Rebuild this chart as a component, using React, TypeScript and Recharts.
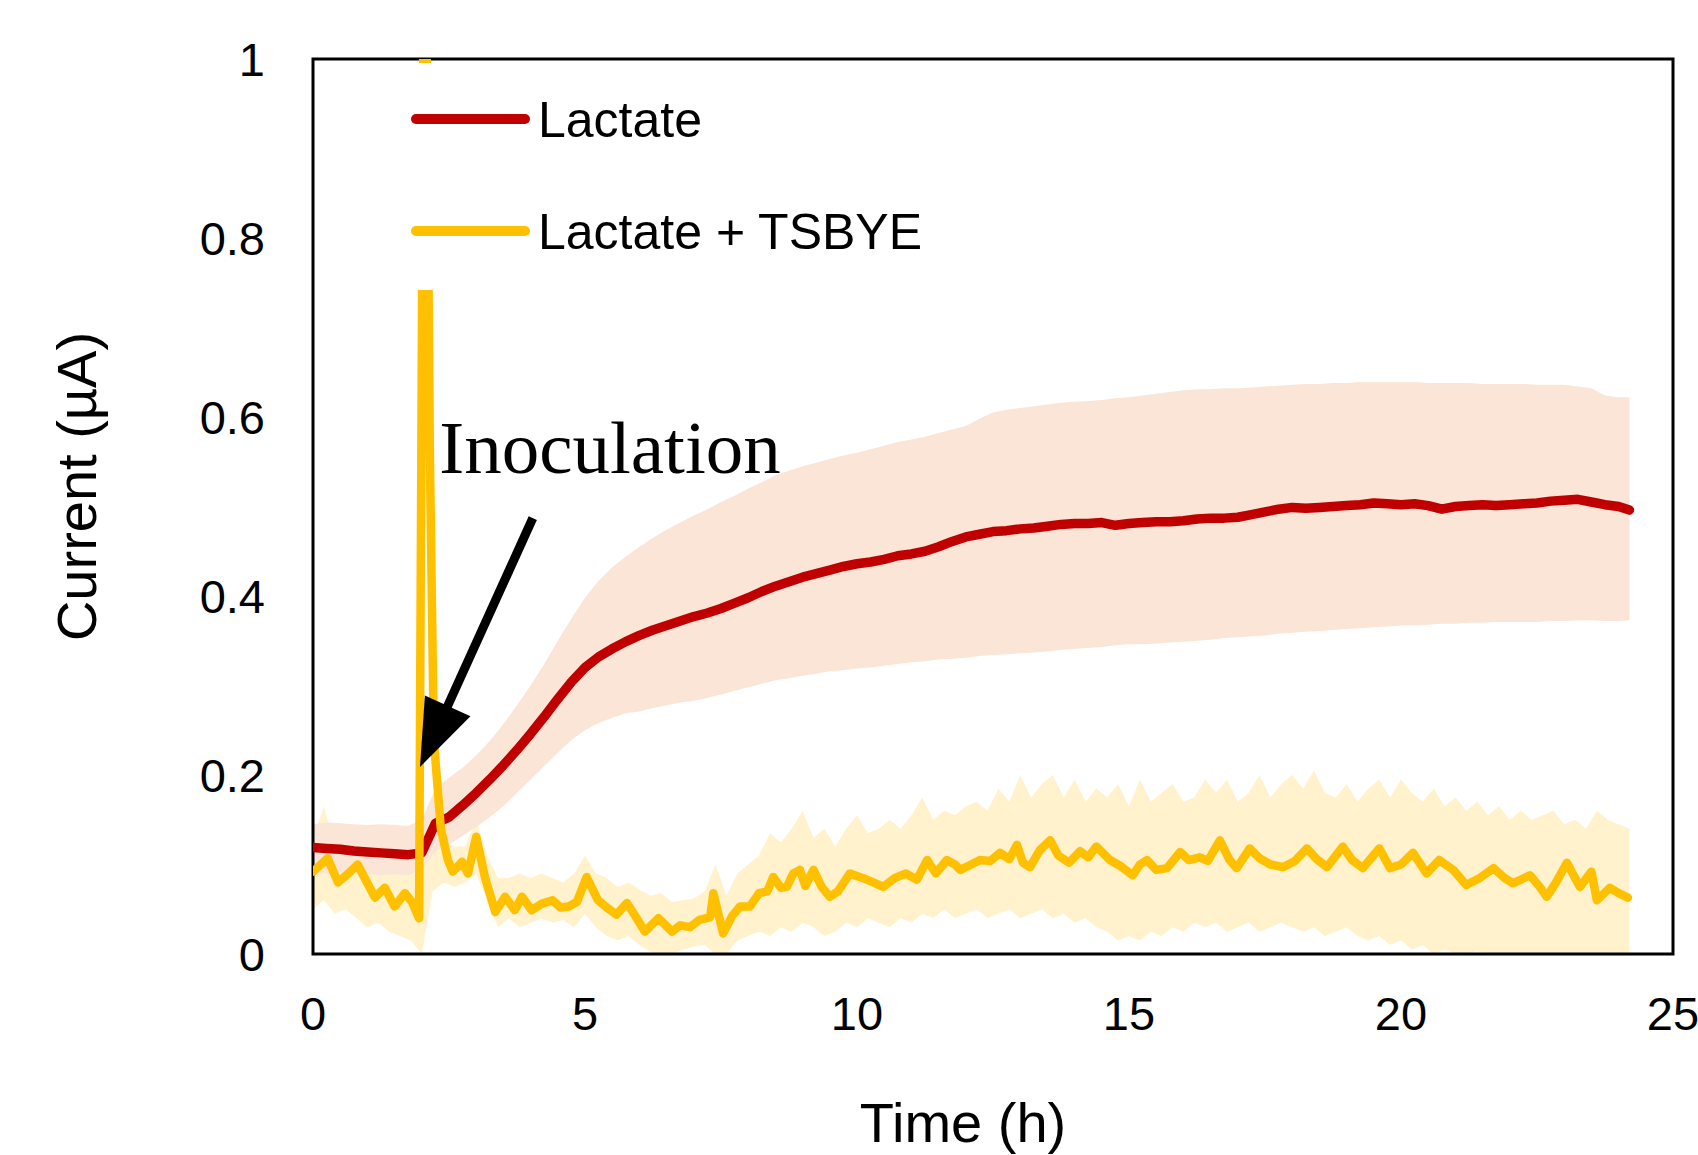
import React from "react";
import {
  Area,
  ComposedChart,
  Line,
  ReferenceArea,
  ReferenceDot,
  ReferenceLine,
  XAxis,
  YAxis,
} from "recharts";

const SANS = '"Liberation Sans", Arial, sans-serif';
const SERIF = '"Liberation Serif", "Times New Roman", serif';
const RED = "#C00000";
const GOLD = "#FFC000";
const RED_BAND = "#FBE5D6";
const GOLD_BAND = "#FFF2CC";

const xTicks = [0, 5, 10, 15, 20, 25];
const yTicks = [0, 0.2, 0.4, 0.6, 0.8, 1];

// Lactate: mean and spread, every 0.25 h
const lactateTime = [
  0, 0.25, 0.5, 0.75, 1, 1.25, 1.5, 1.75, 2, 2.25, 2.5, 2.75,
  3, 3.25, 3.5, 3.75, 4, 4.25, 4.5, 4.75, 5, 5.25, 5.5, 5.75,
  6, 6.25, 6.5, 6.75, 7, 7.25, 7.5, 7.75, 8, 8.25, 8.5, 8.75,
  9, 9.25, 9.5, 9.75, 10, 10.25, 10.5, 10.75, 11, 11.25, 11.5, 11.75,
  12, 12.25, 12.5, 12.75, 13, 13.25, 13.5, 13.75, 14, 14.25, 14.5, 14.75,
  15, 15.25, 15.5, 15.75, 16, 16.25, 16.5, 16.75, 17, 17.25, 17.5, 17.75,
  18, 18.25, 18.5, 18.75, 19, 19.25, 19.5, 19.75, 20, 20.25, 20.5, 20.75,
  21, 21.25, 21.5, 21.75, 22, 22.25, 22.5, 22.75, 23, 23.25, 23.5, 23.75,
  24, 24.2,
];
const lactateMean = [
  0.119, 0.118, 0.117, 0.115, 0.114, 0.113, 0.112, 0.111, 0.113, 0.146, 0.153, 0.166,
  0.18, 0.195, 0.211, 0.228, 0.246, 0.265, 0.285, 0.304, 0.32, 0.332, 0.341, 0.349,
  0.356, 0.362, 0.367, 0.372, 0.377, 0.381, 0.386, 0.392, 0.398, 0.405, 0.411, 0.416,
  0.421, 0.425, 0.429, 0.433, 0.436, 0.438, 0.441, 0.445, 0.447, 0.45, 0.455, 0.461,
  0.466, 0.469, 0.472, 0.473, 0.475, 0.476, 0.478, 0.48, 0.481, 0.481, 0.482, 0.479,
  0.481, 0.482, 0.483, 0.483, 0.484, 0.486, 0.487, 0.487, 0.488, 0.491, 0.494, 0.497,
  0.499, 0.498, 0.499, 0.5, 0.501, 0.502, 0.504, 0.503, 0.502, 0.503, 0.501, 0.497,
  0.5, 0.501, 0.502, 0.501, 0.502, 0.503, 0.504, 0.506, 0.507, 0.508, 0.505, 0.502,
  0.5, 0.496,
];
const lactateLow = [
  0.092, 0.09, 0.091, 0.089, 0.09, 0.088, 0.089, 0.088, 0.095, 0.115, 0.122, 0.132,
  0.142, 0.153, 0.165, 0.18, 0.195, 0.21, 0.225, 0.239, 0.25, 0.258, 0.264, 0.269,
  0.271, 0.275, 0.278, 0.281, 0.283, 0.286, 0.29, 0.294, 0.298, 0.302, 0.306, 0.308,
  0.311, 0.313, 0.316, 0.317, 0.319, 0.32, 0.322, 0.324, 0.326, 0.327, 0.329, 0.33,
  0.331, 0.333, 0.334, 0.335, 0.336, 0.337, 0.338, 0.34, 0.341, 0.342, 0.343, 0.345,
  0.346, 0.346, 0.347, 0.348, 0.349, 0.35, 0.351, 0.353, 0.354, 0.355, 0.356, 0.358,
  0.359, 0.36, 0.361, 0.362, 0.363, 0.364, 0.365, 0.366, 0.367, 0.367, 0.368, 0.369,
  0.369, 0.37, 0.37, 0.371, 0.371, 0.371, 0.371, 0.372, 0.372, 0.373, 0.373, 0.372,
  0.372, 0.373,
];
const lactateHigh = [
  0.145, 0.147, 0.146, 0.145, 0.144, 0.145, 0.144, 0.143, 0.15, 0.185, 0.197, 0.208,
  0.222, 0.238, 0.257, 0.278, 0.3, 0.324, 0.35, 0.375, 0.398, 0.417, 0.432, 0.444,
  0.455, 0.465, 0.474, 0.482, 0.49, 0.497, 0.505, 0.512, 0.52, 0.527, 0.535, 0.54,
  0.545, 0.549, 0.553, 0.557, 0.56, 0.564, 0.568, 0.572, 0.575, 0.578, 0.582, 0.586,
  0.59, 0.598, 0.605, 0.608, 0.61, 0.612, 0.614, 0.616, 0.617, 0.618, 0.619, 0.621,
  0.622, 0.624, 0.626, 0.628, 0.63, 0.631, 0.631, 0.632, 0.632, 0.633, 0.634, 0.635,
  0.636, 0.637, 0.637, 0.638, 0.638, 0.639, 0.639, 0.639, 0.639, 0.639, 0.638, 0.638,
  0.638, 0.638, 0.637, 0.637, 0.637, 0.637, 0.636, 0.636, 0.636, 0.634, 0.632, 0.624,
  0.622, 0.622,
];

// Lactate + TSBYE: mean trace
const tsbTime = [
  0, 0.27, 0.46, 0.65, 0.82, 1.0, 1.14, 1.32, 1.5, 1.69,
  1.82, 1.95, 2.05, 2.15, 2.22, 2.35, 2.48, 2.57, 2.74, 2.85,
  3.0, 3.16, 3.35, 3.53, 3.71, 3.84, 4.02, 4.2, 4.4, 4.55,
  4.7, 4.85, 5.03, 5.24, 5.4, 5.58, 5.77, 5.95, 6.1, 6.35,
  6.6, 6.75, 6.93, 7.1, 7.3, 7.36, 7.54, 7.7, 7.85, 8.03,
  8.2, 8.35, 8.46, 8.6, 8.71, 8.83, 8.95, 9.05, 9.2, 9.35,
  9.5, 9.65, 9.87, 10.1, 10.3, 10.48, 10.7, 10.9, 11.1, 11.29,
  11.45, 11.65, 11.8, 11.9, 12.1, 12.26, 12.45, 12.63, 12.8, 12.94,
  13.05, 13.18, 13.36, 13.55, 13.7, 13.9, 14.1, 14.25, 14.4, 14.65,
  14.85, 15.07, 15.2, 15.33, 15.5, 15.7, 15.94, 16.1, 16.3, 16.45,
  16.67, 16.85, 16.98, 17.22, 17.4, 17.6, 17.83, 18.05, 18.27, 18.45,
  18.64, 18.93, 19.1, 19.3, 19.6, 19.8, 20.0, 20.22, 20.47, 20.7,
  20.96, 21.2, 21.45, 21.7, 21.9, 22.06, 22.37, 22.55, 22.68, 22.85,
  23.05, 23.2, 23.29, 23.5, 23.6, 23.84, 24.0, 24.17,
];
const tsbMean = [
  0.092, 0.107, 0.08, 0.09, 0.1, 0.079, 0.063, 0.074, 0.053, 0.068,
  0.058, 0.04, 1.3, 0.55, 0.24, 0.14, 0.105, 0.092, 0.103, 0.09,
  0.131, 0.086, 0.047, 0.064, 0.049, 0.064, 0.049, 0.056, 0.06, 0.052,
  0.053, 0.058, 0.086, 0.06, 0.052, 0.044, 0.057, 0.04, 0.025, 0.04,
  0.025, 0.032, 0.03, 0.038, 0.041, 0.068, 0.023, 0.042, 0.053, 0.053,
  0.068, 0.07, 0.086, 0.074, 0.075, 0.09, 0.094, 0.076, 0.094, 0.075,
  0.064, 0.07, 0.09, 0.085, 0.08, 0.075, 0.085, 0.09, 0.083, 0.105,
  0.09, 0.105, 0.1, 0.094, 0.1, 0.105, 0.104, 0.113, 0.106, 0.122,
  0.102, 0.097, 0.116, 0.127, 0.11, 0.102, 0.115, 0.108, 0.12, 0.105,
  0.098, 0.088, 0.1, 0.105, 0.094, 0.096, 0.114, 0.105, 0.108, 0.104,
  0.127, 0.105, 0.096, 0.118, 0.107, 0.1, 0.097, 0.104, 0.118, 0.106,
  0.097, 0.12, 0.105, 0.096, 0.118, 0.096, 0.1, 0.113, 0.09, 0.105,
  0.094, 0.077, 0.085, 0.096, 0.085, 0.079, 0.088, 0.075, 0.064, 0.08,
  0.102, 0.085, 0.075, 0.092, 0.06, 0.074, 0.068, 0.063,
];

// Lactate + TSBYE: spread, every 0.2 h
const tsbBandTime = [
  0, 0.2, 0.4, 0.6, 0.8, 1, 1.2, 1.4, 1.6, 1.8,
  2, 2.2, 2.4, 2.6, 2.8, 3, 3.2, 3.4, 3.6, 3.8,
  4, 4.2, 4.4, 4.6, 4.8, 5, 5.2, 5.4, 5.6, 5.8,
  6, 6.2, 6.4, 6.6, 6.8, 7, 7.2, 7.4, 7.6, 7.8,
  8, 8.2, 8.4, 8.6, 8.8, 9, 9.2, 9.4, 9.6, 9.8,
  10, 10.2, 10.4, 10.6, 10.8, 11, 11.2, 11.4, 11.6, 11.8,
  12, 12.2, 12.4, 12.6, 12.8, 13, 13.2, 13.4, 13.6, 13.8,
  14, 14.2, 14.4, 14.6, 14.8, 15, 15.2, 15.4, 15.6, 15.8,
  16, 16.2, 16.4, 16.6, 16.8, 17, 17.2, 17.4, 17.6, 17.8,
  18, 18.2, 18.4, 18.6, 18.8, 19, 19.2, 19.4, 19.6, 19.8,
  20, 20.2, 20.4, 20.6, 20.8, 21, 21.2, 21.4, 21.6, 21.8,
  22, 22.2, 22.4, 22.6, 22.8, 23, 23.2, 23.4, 23.6, 23.8,
  24, 24.2,
];
const tsbLow = [
  0.05, 0.06, 0.045, 0.05, 0.04, 0.03, 0.035, 0.025, 0.02, 0.015,
  0, 0.07, 0.08, 0.075, 0.08, 0.09, 0.06, 0.03, 0.04, 0.03,
  0.035, 0.04, 0.035, 0.038, 0.03, 0.045, 0.03, 0.02, 0.015, 0.02,
  0.01, 0.002, 0, 0, 0.005, 0.008, 0.01, 0, 0, 0.015,
  0.02, 0.025, 0.02, 0.03, 0.025, 0.035, 0.03, 0.02, 0.025, 0.035,
  0.03, 0.04, 0.035, 0.03, 0.04, 0.035, 0.045, 0.04, 0.05, 0.04,
  0.045, 0.05, 0.04, 0.045, 0.05, 0.04, 0.045, 0.05, 0.04, 0.045,
  0.035, 0.04, 0.03, 0.025, 0.015, 0.02, 0.015, 0.025, 0.02, 0.03,
  0.025, 0.035, 0.03, 0.035, 0.025, 0.03, 0.035, 0.025, 0.03, 0.035,
  0.03, 0.025, 0.03, 0.02, 0.025, 0.03, 0.02, 0.015, 0.02, 0.01,
  0.015, 0.005, 0.01, 0, 0.005, 0, 0, 0.003, 0, 0,
  0, 0, 0, 0, 0, 0, 0, 0, 0, 0,
  0, 0,
];
const tsbHigh = [
  0.13, 0.165, 0.12, 0.12, 0.125, 0.11, 0.12, 0.1, 0.105, 0.09,
  0.1, 0.15, 0.125, 0.12, 0.12, 0.15, 0.11, 0.085, 0.085, 0.09,
  0.085, 0.09, 0.085, 0.08, 0.09, 0.11, 0.09, 0.085, 0.075, 0.08,
  0.072, 0.065, 0.068, 0.058, 0.06, 0.062, 0.07, 0.1, 0.065, 0.09,
  0.1, 0.11, 0.135, 0.125, 0.14, 0.16, 0.13, 0.14, 0.12, 0.14,
  0.155, 0.135, 0.14, 0.15, 0.14, 0.155, 0.175, 0.15, 0.16, 0.155,
  0.165, 0.17, 0.16, 0.185, 0.17, 0.2, 0.175, 0.19, 0.2, 0.175,
  0.195, 0.17, 0.185, 0.175, 0.19, 0.165, 0.195, 0.17, 0.18, 0.19,
  0.17, 0.175, 0.195, 0.18, 0.195, 0.17, 0.18, 0.2, 0.175, 0.19,
  0.2, 0.185, 0.205, 0.18, 0.175, 0.19, 0.17, 0.185, 0.195, 0.175,
  0.195, 0.18, 0.17, 0.185, 0.165, 0.175, 0.16, 0.17, 0.155, 0.165,
  0.15, 0.16, 0.15, 0.155, 0.16, 0.145, 0.15, 0.14, 0.16, 0.15,
  0.145, 0.14,
];

// annotation anchors, in data units (h, µA)
const arrowTail = { x: 4.04, y: 0.487 };
const arrowTip = { x: 1.967, y: 0.209 };
const noteAt = { x: 2.32, y: 0.537 };

const lactateData = lactateTime.map((t, i) => ({
  t,
  mean: lactateMean[i],
  band: [lactateLow[i], lactateHigh[i]],
}));
const tsbData = tsbTime.map((t, i) => ({ t, mean: tsbMean[i] }));
const tsbBandData = tsbBandTime.map((t, i) => ({
  t,
  band: [tsbLow[i], tsbHigh[i]],
}));

function Arrow(props: any) {
  const { x1, y1, x2, y2 } = props;
  const dx = x2 - x1;
  const dy = y2 - y1;
  const len = Math.hypot(dx, dy) || 1;
  const ux = dx / len;
  const uy = dy / len;
  const head = 67;
  const half = 25;
  const bx = x2 - ux * head;
  const by = y2 - uy * head;
  return (
    <g>
      <line x1={x1} y1={y1} x2={bx + ux * 2} y2={by + uy * 2} stroke="#000" strokeWidth={9} />
      <polygon
        points={`${x2},${y2} ${bx - uy * half},${by + ux * half} ${bx + uy * half},${by - ux * half}`}
        fill="#000"
      />
    </g>
  );
}

function Note(props: any) {
  const { cx, cy } = props;
  return (
    <text x={cx} y={cy} fontFamily={SERIF} fontSize={75} fill="#000">
      Inoculation
    </text>
  );
}

function YTitle(props: any) {
  const vb = props.viewBox || { x: 0, y: 59, width: 313, height: 895 };
  const cx = vb.x + 76;
  const cy = vb.y + vb.height / 2 - 20;
  return (
    <text
      x={cx}
      y={cy}
      transform={`rotate(-90 ${cx} ${cy})`}
      textAnchor="middle"
      dominantBaseline="central"
      fontFamily={SANS}
      fontSize={56}
      fill="#000"
    >
      Current (µA)
    </text>
  );
}

function XTitle(props: any) {
  const vb = props.viewBox || { x: 313, y: 954, width: 1360, height: 201 };
  return (
    <text
      x={vb.x + vb.width / 2 - 30}
      y={vb.y + 188}
      textAnchor="middle"
      fontFamily={SANS}
      fontSize={56}
      fill="#000"
    >
      Time (h)
    </text>
  );
}

function LegendBox() {
  const rows = [
    { name: "Lactate", color: RED, y: 119 },
    { name: "Lactate + TSBYE", color: GOLD, y: 231 },
  ];
  return (
    <svg
      width={542}
      height={227}
      style={{ position: "absolute", left: 400, top: 63, background: "#fff" }}
    >
      {rows.map((r) => (
        <g key={r.name}>
          <line
            x1={16}
            x2={125}
            y1={r.y - 63}
            y2={r.y - 63}
            stroke={r.color}
            strokeWidth={10}
            strokeLinecap="round"
          />
          <text x={138} y={r.y - 63 + 18} fontFamily={SANS} fontSize={50} fill="#000">
            {r.name}
          </text>
        </g>
      ))}
    </svg>
  );
}

export default function App() {
  return (
    <div
      style={{
        position: "absolute",
        left: 0,
        top: 0,
        width: 1698,
        height: 1155,
        background: "#fff",
      }}
    >
      <ComposedChart
        width={1698}
        height={1155}
        margin={{ top: 59, right: 25, bottom: 0, left: 0 }}
      >
        <XAxis
          dataKey="t"
          type="number"
          domain={[0, 25]}
          ticks={xTicks}
          interval={0}
          allowDataOverflow
          axisLine={false}
          tickLine={false}
          tickSize={0}
          tickMargin={43}
          height={201}
          tick={{ fill: "#000", fontSize: 47, fontFamily: SANS }}
          label={{ content: <XTitle /> }}
        />
        <YAxis
          type="number"
          domain={[0, 1]}
          ticks={yTicks}
          interval={0}
          allowDataOverflow
          axisLine={false}
          tickLine={false}
          tickSize={0}
          tickMargin={48}
          width={313}
          tick={{ fill: "#000", fontSize: 47, fontFamily: SANS }}
          label={{ content: <YTitle /> }}
        />
        <Area
          data={tsbBandData}
          dataKey="band"
          type="linear"
          stroke="none"
          fill={GOLD_BAND}
          fillOpacity={1}
          isAnimationActive={false}
        />
        <Area
          data={lactateData}
          dataKey="band"
          type="linear"
          stroke="none"
          fill={RED_BAND}
          fillOpacity={1}
          isAnimationActive={false}
        />
        <Line
          data={lactateData}
          dataKey="mean"
          type="linear"
          stroke={RED}
          strokeWidth={9.5}
          strokeLinejoin="round"
          strokeLinecap="round"
          dot={false}
          isAnimationActive={false}
        />
        <Line
          data={tsbData}
          dataKey="mean"
          type="linear"
          stroke={GOLD}
          strokeWidth={8.5}
          strokeLinejoin="round"
          strokeLinecap="round"
          dot={false}
          isAnimationActive={false}
        />
        <ReferenceLine
          segment={[arrowTail, arrowTip]}
          shape={<Arrow />}
          ifOverflow="visible"
        />
        <ReferenceDot
          x={noteAt.x}
          y={noteAt.y}
          r={0}
          shape={<Note />}
          ifOverflow="visible"
        />
        <ReferenceArea
          x1={0}
          x2={25}
          y1={0}
          y2={1}
          fill="none"
          stroke="#000"
          strokeWidth={3}
          ifOverflow="visible"
        />
      </ComposedChart>
      <LegendBox />
    </div>
  );
}
